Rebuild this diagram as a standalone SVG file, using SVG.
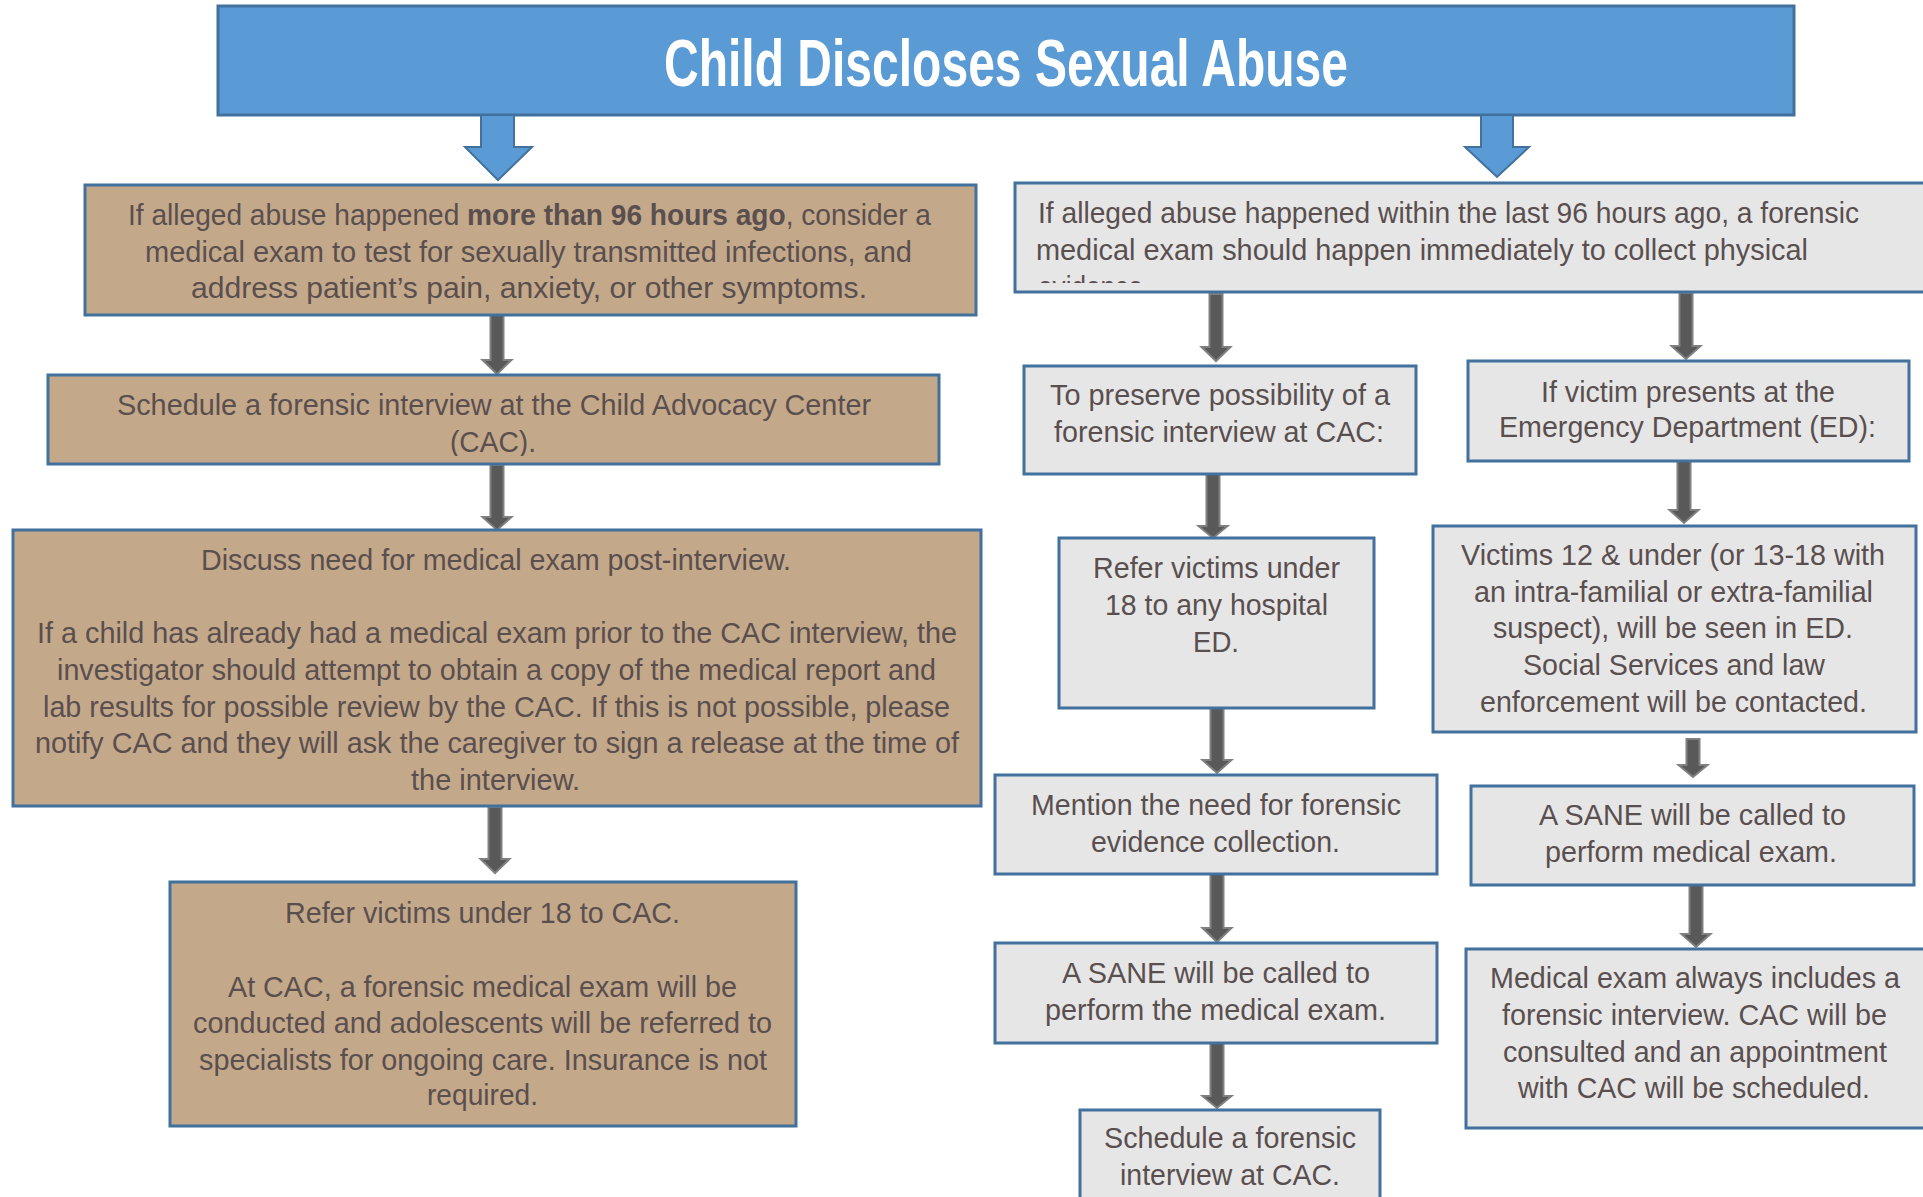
<svg xmlns="http://www.w3.org/2000/svg" width="1923" height="1197" viewBox="0 0 1923 1197">
<style>
.tan{fill:#c4a88a;stroke:#41719c;stroke-width:3}
.grey{fill:#e6e6e6;stroke:#41719c;stroke-width:3}
.title{fill:#5b9bd5;stroke:#41719c;stroke-width:3}
.t{font-family:"Liberation Sans",Arial,sans-serif;font-size:30px;fill:#5a4f4f}
.b{font-weight:bold}
.tt{font-family:"Liberation Sans",Arial,sans-serif;font-size:66px;font-weight:bold;fill:#ffffff}
.ba{fill:#5b9bd5;stroke:#41719c;stroke-width:2}
.da{fill:#595959;stroke:#808080;stroke-width:2}
</style>
<defs>
<clipPath id="cB2"><rect x="0" y="370" width="1000" height="86"/></clipPath>
<clipPath id="cR0"><rect x="1000" y="180" width="923" height="103"/></clipPath>
</defs>
<rect width="1923" height="1197" fill="#ffffff"/>

<g id="title">
<rect class="title" x="218" y="6" width="1576" height="109"/>
<text class="tt" x="664" y="86" textLength="684" lengthAdjust="spacingAndGlyphs">Child Discloses Sexual Abuse</text>
</g>

<g id="connectors">
<path class="ba" d="M481,115 H514 V147 H532 L498,180 L465,147 H481 Z"/>
<path class="ba" d="M1481,115 H1513 V147 H1529 L1497,177 L1465,147 H1481 Z"/>
<path class="da" d="M490.5,308 H503.5 V360 H511.5 L497,374 L482.5,360 H490.5 Z"/>
<path class="da" d="M490.5,465 H503.5 V517 H511.5 L497,530 L482.5,517 H490.5 Z"/>
<path class="da" d="M488.5,807 H501.5 V859 H509.5 L495,873 L480.5,859 H488.5 Z"/>
<path class="da" d="M1209.5,294 H1222.5 V347 H1230.5 L1216,361 L1201.5,347 H1209.5 Z"/>
<path class="da" d="M1679.5,293 H1692.5 V346 H1700.5 L1686,359 L1671.5,346 H1679.5 Z"/>
<path class="da" d="M1206.5,474 H1219.5 V526 H1227.5 L1213,538 L1198.5,526 H1206.5 Z"/>
<path class="da" d="M1210.5,708 H1223.5 V760 H1231.5 L1217,773 L1202.5,760 H1210.5 Z"/>
<path class="da" d="M1677.5,461 H1690.5 V510 H1698.5 L1684,523 L1669.5,510 H1677.5 Z"/>
<path class="da" d="M1686.5,739 H1699.5 V765 H1707.5 L1693,777 L1678.5,765 H1686.5 Z"/>
<path class="da" d="M1210.5,874 H1223.5 V928 H1231.5 L1217,942 L1202.5,928 H1210.5 Z"/>
<path class="da" d="M1210.5,1043 H1223.5 V1096 H1231.5 L1217,1108 L1202.5,1096 H1210.5 Z"/>
<path class="da" d="M1689.5,885 H1702.5 V934 H1710.5 L1696,947 L1681.5,934 H1689.5 Z"/>
</g>

<g id="node-more96">
<rect class="tan" x="85" y="185" width="891" height="130"/>
<text class="t" x="128" y="225" textLength="803" lengthAdjust="spacingAndGlyphs">If alleged abuse happened <tspan class="b">more than 96 hours ago</tspan>, consider a</text>
<text class="t" x="145" y="262" textLength="767" lengthAdjust="spacingAndGlyphs">medical exam to test for sexually transmitted infections, and</text>
<text class="t" x="191" y="298" textLength="676" lengthAdjust="spacingAndGlyphs">address patient’s pain, anxiety, or other symptoms.</text>
</g>

<g id="node-schedule-cac">
<rect class="tan" x="48" y="375" width="891" height="89"/>
<g clip-path="url(#cB2)">
<text class="t" x="117" y="415" textLength="754" lengthAdjust="spacingAndGlyphs">Schedule a forensic interview at the Child Advocacy Center</text>
<text class="t" x="450" y="452" textLength="86" lengthAdjust="spacingAndGlyphs">(CAC).</text>
</g>
</g>

<g id="node-discuss">
<rect class="tan" x="13" y="530" width="968" height="276"/>
<text class="t" x="201" y="570" textLength="590" lengthAdjust="spacingAndGlyphs">Discuss need for medical exam post-interview.</text>
<text class="t" x="37" y="643" textLength="920" lengthAdjust="spacingAndGlyphs">If a child has already had a medical exam prior to the CAC interview, the</text>
<text class="t" x="57" y="680" textLength="879" lengthAdjust="spacingAndGlyphs">investigator should attempt to obtain a copy of the medical report and</text>
<text class="t" x="43" y="717" textLength="907" lengthAdjust="spacingAndGlyphs">lab results for possible review by the CAC. If this is not possible, please</text>
<text class="t" x="35" y="753" textLength="924" lengthAdjust="spacingAndGlyphs">notify CAC and they will ask the caregiver to sign a release at the time of</text>
<text class="t" x="411" y="790" textLength="169" lengthAdjust="spacingAndGlyphs">the interview.</text>
</g>

<g id="node-refer-cac">
<rect class="tan" x="170" y="882" width="626" height="244"/>
<text class="t" x="285" y="923" textLength="395" lengthAdjust="spacingAndGlyphs">Refer victims under 18 to CAC.</text>
<text class="t" x="228" y="997" textLength="509" lengthAdjust="spacingAndGlyphs">At CAC, a forensic medical exam will be</text>
<text class="t" x="193" y="1033" textLength="579" lengthAdjust="spacingAndGlyphs">conducted and adolescents will be referred to</text>
<text class="t" x="199" y="1070" textLength="568" lengthAdjust="spacingAndGlyphs">specialists for ongoing care. Insurance is not</text>
<text class="t" x="427" y="1105" textLength="111" lengthAdjust="spacingAndGlyphs">required.</text>
</g>

<g id="node-within96">
<rect class="grey" x="1015" y="183" width="925" height="109"/>
<g clip-path="url(#cR0)">
<text class="t" x="1038" y="223" textLength="821" lengthAdjust="spacingAndGlyphs">If alleged abuse happened within the last 96 hours ago, a forensic</text>
<text class="t" x="1036" y="260" textLength="772" lengthAdjust="spacingAndGlyphs">medical exam should happen immediately to collect physical</text>
<text class="t" x="1038" y="297" textLength="112" lengthAdjust="spacingAndGlyphs">evidence.</text>
</g>
</g>

<g id="node-preserve">
<rect class="grey" x="1024" y="366" width="392" height="108"/>
<text class="t" x="1050" y="405" textLength="340" lengthAdjust="spacingAndGlyphs">To preserve possibility of a</text>
<text class="t" x="1054" y="442" textLength="330" lengthAdjust="spacingAndGlyphs">forensic interview at CAC:</text>
</g>

<g id="node-ed">
<rect class="grey" x="1468" y="361" width="441" height="100"/>
<text class="t" x="1541" y="402" textLength="294" lengthAdjust="spacingAndGlyphs">If victim presents at the</text>
<text class="t" x="1499" y="437" textLength="377" lengthAdjust="spacingAndGlyphs">Emergency Department (ED):</text>
</g>

<g id="node-refer-hospital">
<rect class="grey" x="1059" y="538" width="315" height="170"/>
<text class="t" x="1093" y="578" textLength="247" lengthAdjust="spacingAndGlyphs">Refer victims under</text>
<text class="t" x="1105" y="615" textLength="223" lengthAdjust="spacingAndGlyphs">18 to any hospital</text>
<text class="t" x="1193" y="652" textLength="46" lengthAdjust="spacingAndGlyphs">ED.</text>
</g>

<g id="node-victims12">
<rect class="grey" x="1433" y="526" width="483" height="206"/>
<text class="t" x="1461" y="565" textLength="424" lengthAdjust="spacingAndGlyphs">Victims 12 &amp; under (or 13-18 with</text>
<text class="t" x="1474" y="602" textLength="399" lengthAdjust="spacingAndGlyphs">an intra-familial or extra-familial</text>
<text class="t" x="1493" y="638" textLength="360" lengthAdjust="spacingAndGlyphs">suspect), will be seen in ED.</text>
<text class="t" x="1523" y="675" textLength="302" lengthAdjust="spacingAndGlyphs">Social Services and law</text>
<text class="t" x="1480" y="712" textLength="387" lengthAdjust="spacingAndGlyphs">enforcement will be contacted.</text>
</g>

<g id="node-mention">
<rect class="grey" x="995" y="775" width="442" height="99"/>
<text class="t" x="1031" y="815" textLength="370" lengthAdjust="spacingAndGlyphs">Mention the need for forensic</text>
<text class="t" x="1091" y="852" textLength="249" lengthAdjust="spacingAndGlyphs">evidence collection.</text>
</g>

<g id="node-sane-ed">
<rect class="grey" x="1471" y="786" width="443" height="99"/>
<text class="t" x="1539" y="825" textLength="307" lengthAdjust="spacingAndGlyphs">A SANE will be called to</text>
<text class="t" x="1545" y="862" textLength="292" lengthAdjust="spacingAndGlyphs">perform medical exam.</text>
</g>

<g id="node-sane-cac">
<rect class="grey" x="995" y="943" width="442" height="100"/>
<text class="t" x="1062" y="983" textLength="308" lengthAdjust="spacingAndGlyphs">A SANE will be called to</text>
<text class="t" x="1045" y="1020" textLength="341" lengthAdjust="spacingAndGlyphs">perform the medical exam.</text>
</g>

<g id="node-schedule-interview">
<rect class="grey" x="1080" y="1110" width="300" height="100"/>
<text class="t" x="1104" y="1148" textLength="252" lengthAdjust="spacingAndGlyphs">Schedule a forensic</text>
<text class="t" x="1120" y="1185" textLength="220" lengthAdjust="spacingAndGlyphs">interview at CAC.</text>
</g>

<g id="node-medical-exam">
<rect class="grey" x="1466" y="949" width="474" height="179"/>
<text class="t" x="1490" y="988" textLength="410" lengthAdjust="spacingAndGlyphs">Medical exam always includes a</text>
<text class="t" x="1502" y="1025" textLength="385" lengthAdjust="spacingAndGlyphs">forensic interview. CAC will be</text>
<text class="t" x="1503" y="1062" textLength="384" lengthAdjust="spacingAndGlyphs">consulted and an appointment</text>
<text class="t" x="1518" y="1098" textLength="352" lengthAdjust="spacingAndGlyphs">with CAC will be scheduled.</text>
</g>
</svg>
